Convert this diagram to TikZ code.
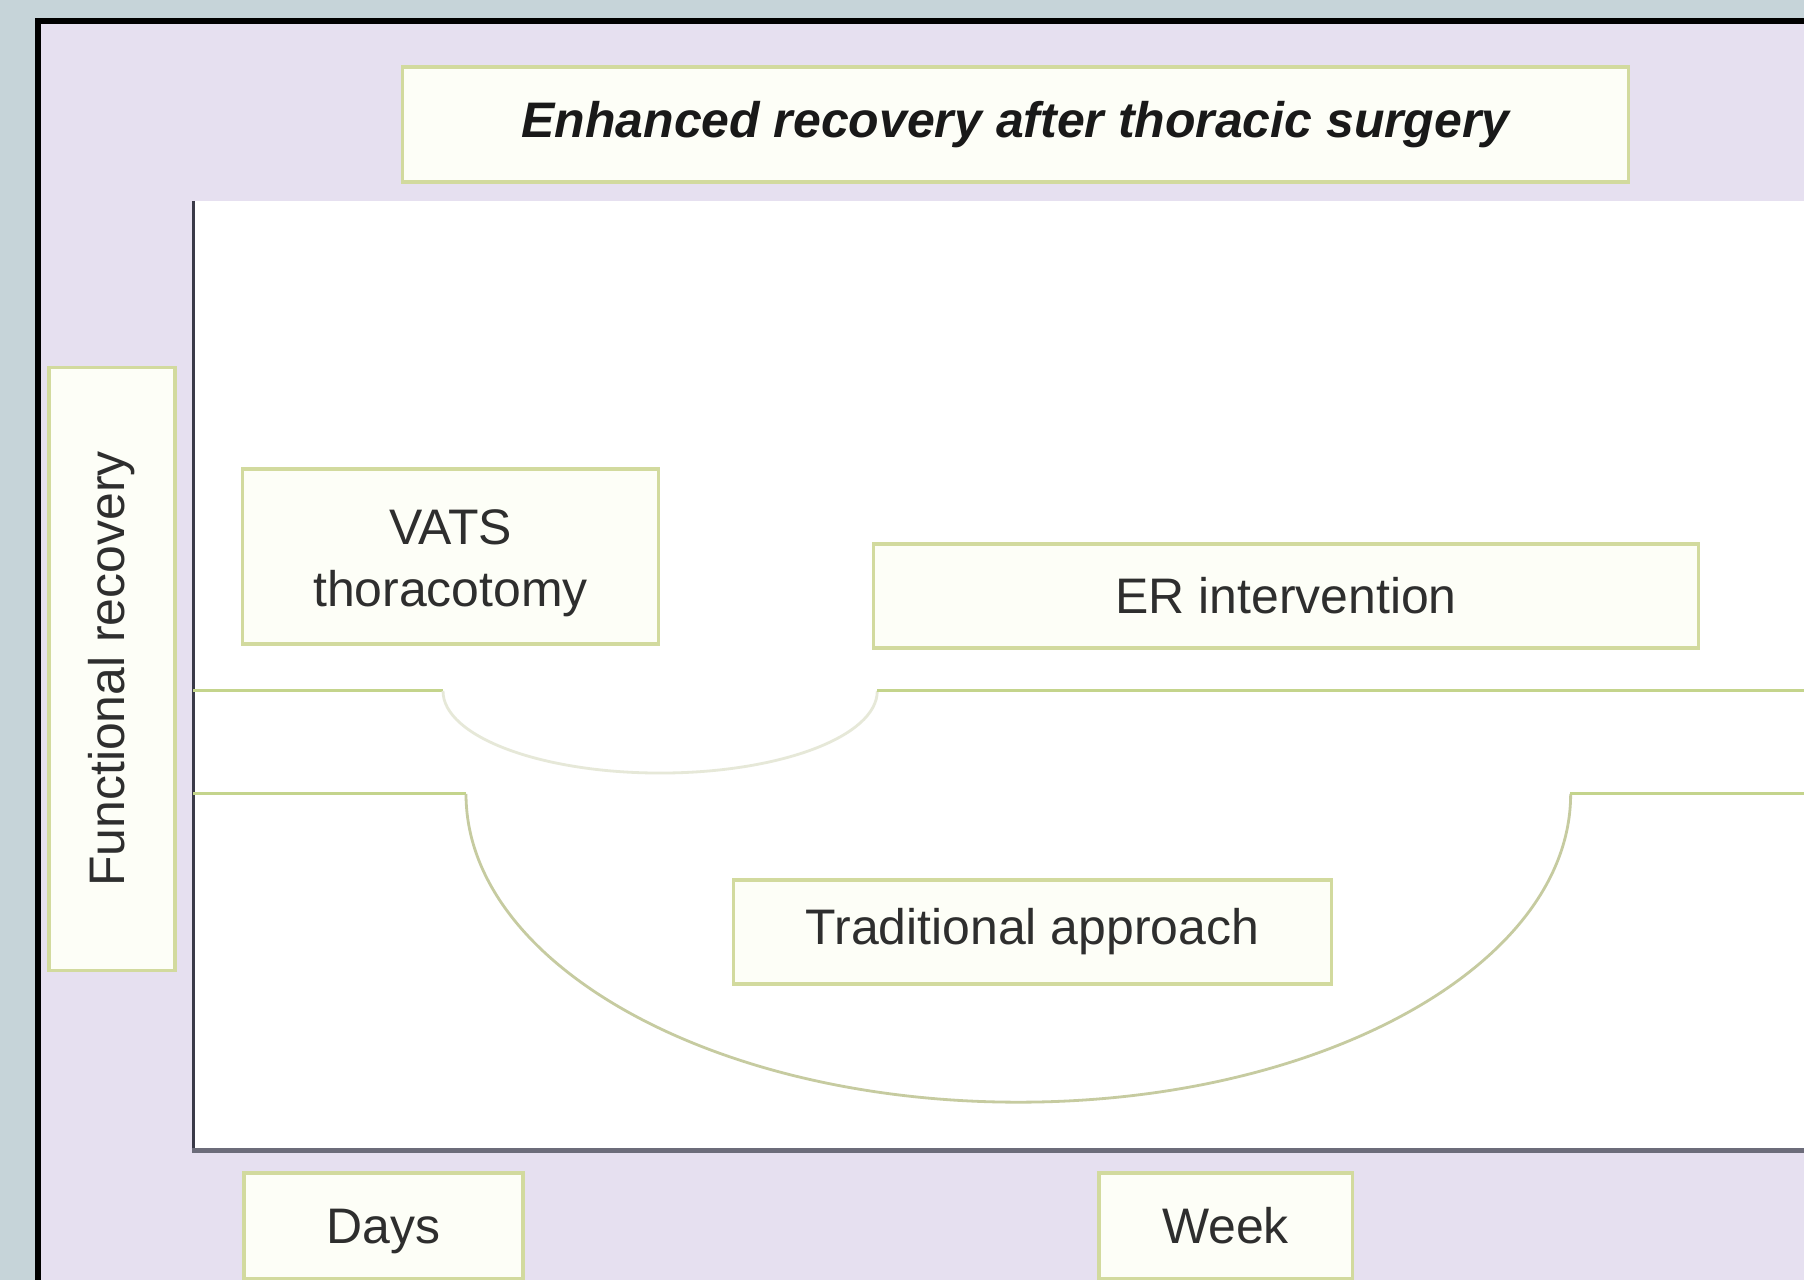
\documentclass[tikz,border=0pt]{standalone}
\usepackage{fontspec}
\setmainfont{Liberation Sans}
\definecolor{outbg}{HTML}{C6D4D9}
\definecolor{lav}{HTML}{E6E0F0}
\definecolor{boxc}{HTML}{D2DA9E}
\definecolor{boxfill}{HTML}{FDFEF7}
\definecolor{linec}{HTML}{C4D48C}
\definecolor{curvec}{HTML}{C6CBA0}
\definecolor{faintc}{HTML}{E6E8D8}
\definecolor{axisc}{HTML}{3A3A48}
\definecolor{baxisc}{HTML}{6C6C7A}
\definecolor{txt}{HTML}{2E2E2E}
\begin{document}
\begin{tikzpicture}[x=0.01cm,y=-0.01cm,
  lab/.style={font=\fontsize{14.2pt}{17.6pt}\selectfont, text=txt},
  box/.style={lab, draw=boxc, line width=0.32mm, fill=boxfill, inner sep=0pt, align=center},
  gline/.style={linec, line width=0.3mm},
  ucurve/.style={faintc, line width=0.28mm},
  lcurve/.style={curvec, line width=0.28mm}]
\useasboundingbox (0,0) rectangle (1804,1280);
\clip (0,0) rectangle (1804,1280);
% backgrounds
\fill[outbg] (0,0) rectangle (1804,1280);
\fill[lav] (38,21) rectangle (1830,1300);
\draw[black, line width=0.55mm] (38,1300) -- (38,21) -- (1830,21);
% plot area
\fill[white] (193,201) rectangle (1830,1150);
\coordinate (ytop) at (193,201);
\coordinate (orig) at (193,1150);
\coordinate (xend) at (1830,1150);
\draw[axisc, line width=0.3mm] (ytop) -- (orig);
\draw[baxisc, line width=0.5mm] ([xshift=-0.15mm]orig) -- (xend);
% upper (ER) line
\coordinate (ua) at (193,691);
\coordinate (ub) at (443,691);
\coordinate (uc) at (877,691);
\coordinate (ud) at (1830,691);
\draw[gline] (ua) -- (ub);
\draw[ucurve] (ub) arc[start angle=180, end angle=360, x radius=2.17cm, y radius=0.82cm];
\draw[gline] (uc) -- (ud);
% lower (traditional) line
\coordinate (la) at (193,794);
\coordinate (lb) at (466,794);
\coordinate (lc) at (1570,794);
\coordinate (ld) at (1830,794);
\draw[gline] (la) -- (lb);
\draw[lcurve] (lb) arc[start angle=180, end angle=360, x radius=5.52cm, y radius=3.08cm];
\draw[gline] (lc) -- (ld);
% boxes
\node[box, minimum width=12.25cm, minimum height=1.15cm, font=\fontsize{14.2pt}{17.6pt}\selectfont\bfseries\itshape, text=black!90]
  (title) at (1015.5,124.5) {Enhanced recovery after thoracic surgery};
\node[box, rotate=90, minimum width=6.02cm, minimum height=1.26cm] (ylab) at (112,669) {Functional recovery};
\node[box, minimum width=4.15cm, minimum height=1.75cm] (vats) at (450.5,556.5) {};
\node[lab, align=center, inner sep=0pt] (vatstext) at ([yshift=-0.07cm]vats.center) {VATS\\thoracotomy};
\node[box, minimum width=8.24cm, minimum height=1.04cm] (er) at (1286,596) {ER intervention};
\node[box, minimum width=5.97cm, minimum height=1.04cm] (trad) at (1032.5,932) {Traditional approach};
\node[box, minimum width=2.79cm, minimum height=1.06cm] (days) at (383.5,1226) {};
\node[lab, inner sep=0pt] (daystext) at ([yshift=-0.05cm]days.center) {Days};
\node[box, minimum width=2.53cm, minimum height=1.06cm] (week) at (1225.5,1226) {Week};
\end{tikzpicture}
\end{document}
